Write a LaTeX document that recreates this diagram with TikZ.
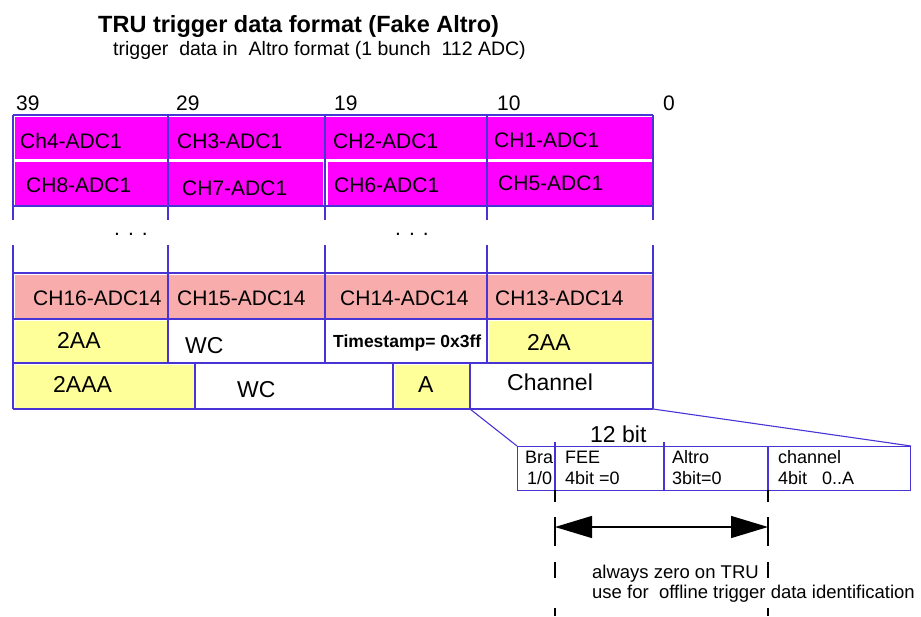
\documentclass[tikz,border=0pt]{standalone}
\usepackage{fontspec}
\setmainfont{Liberation Sans}
\usetikzlibrary{arrows.meta}
\definecolor{gridblue}{RGB}{72,52,212}
\definecolor{mag}{RGB}{255,0,255}
\definecolor{pinkc}{RGB}{248,172,172}
\definecolor{yel}{RGB}{255,255,153}
\begin{document}
\begin{tikzpicture}[x=1pt,y=-1pt,
  gridline/.style={draw=gridblue,line width=1.3pt},
  thinblue/.style={draw=gridblue,line width=1.1pt},
  txt/.style={anchor=base west,inner sep=0pt,text=black},
  cellfont/.style={txt,font=\fontsize{21}{21}\selectfont},
  bigfont/.style={txt,font=\fontsize{23}{23}\selectfont},
  smallfont/.style={txt,font=\fontsize{18}{18}\selectfont},
  dimline/.style={draw=black,line width=1.3pt},
  bigtri/.tip={Triangle[length=37pt,width=22pt]}]
\useasboundingbox (0,0) rectangle (921,616);

% titles
\node[txt,font=\bfseries\fontsize{23.5}{23.5}\selectfont] (title) at (98,32) {TRU trigger data format (Fake Altro)};
\node[txt,font=\fontsize{19.5}{19.5}\selectfont] (subtitle) at (113,55) {trigger\ \ data in\ \ Altro format (1 bunch\ \ 112 ADC)};

% bit numbers
\node[cellfont] (b39) at (16,110) {39};
\node[cellfont] (b29) at (176,110) {29};
\node[cellfont] (b19) at (334,110) {19};
\node[cellfont] (b10) at (497,110) {10};
\node[cellfont] (b0) at (663,110) {0};

% fills
\fill[mag] (14.5,116.5) rectangle (651.5,158.5);
\fill[mag] (14.5,161.5) rectangle (323,204.5);
\fill[mag] (328,161.5) rectangle (651.5,204.5);
\fill[pinkc] (14.5,274.5) rectangle (651.5,317.5);
\fill[yel] (15,321) rectangle (166.5,361.5);
\fill[yel] (488.5,321) rectangle (651.5,361.5);
\fill[yel] (15,365) rectangle (193.5,407.5);
\fill[yel] (394.5,365) rectangle (468.5,407.5);

% grid lines
\foreach \y in {115,206,273,319,363,409} \draw[gridline] (13,\y) -- (653,\y);
\foreach \x in {13,653} {
  \draw[gridline] (\x,115) -- (\x,220);
  \draw[gridline] (\x,245) -- (\x,409);
}
\foreach \x in {168,325,487} {
  \draw[gridline] (\x,115) -- (\x,220);
  \draw[gridline] (\x,245) -- (\x,363);
}
\foreach \x in {195,393,470} \draw[gridline] (\x,363) -- (\x,410);

% row 1 and 2
\node[cellfont] (c4) at (20,148) {Ch4-ADC1};
\node[cellfont] (c3) at (177,148) {CH3-ADC1};
\node[cellfont] (c2) at (333,148) {CH2-ADC1};
\node[cellfont] (c1) at (494,147) {CH1-ADC1};
\node[cellfont] (c8) at (26,192) {CH8-ADC1};
\node[cellfont] (c7) at (182,195) {CH7-ADC1};
\node[cellfont] (c6) at (334,192) {CH6-ADC1};
\node[cellfont] (c5) at (498,190) {CH5-ADC1};

% dots
\node[cellfont] (dotsA) at (114,235) {.\hspace{8pt}.\hspace{8pt}.};
\node[cellfont] (dotsB) at (395,235) {.\hspace{8pt}.\hspace{8pt}.};

% pink row
\node[cellfont] (c16) at (33,305) {CH16-ADC14};
\node[cellfont] (c15) at (177,305) {CH15-ADC14};
\node[cellfont] (c14) at (340,305) {CH14-ADC14};
\node[cellfont] (c13) at (495,305) {CH13-ADC14};

% trailer rows
\node[bigfont] (h2aa) at (57,348) {2AA};
\node[bigfont] (hwc) at (185,353) {WC};
\node[txt,font=\bfseries\fontsize{17.5}{17.5}\selectfont] (ts) at (333,347) {Timestamp= 0x3ff};
\node[bigfont] (h2aab) at (527,350) {2AA};
\node[bigfont] (t2aaa) at (53,392) {2AAA};
\node[bigfont] (twc) at (237,397) {WC};
\node[bigfont] (ta) at (418,392) {A};
\node[bigfont] (tch) at (507,390) {Channel};

% 12 bit box
\node[bigfont] (twelve) at (590,442) {12 bit};
\node[draw=gridblue,line width=1.1pt,minimum width=393pt,minimum height=44pt,anchor=north west,inner sep=0pt] (bits) at (517,446) {};
\draw[thinblue] (555,442) -- (555,490);
\draw[thinblue] (664,442) -- (664,490);
\draw[thinblue] (768,446) -- (768,490);
\node[smallfont] (bra) at (525,463) {Bra};
\node[smallfont] (bra2) at (527,484) {1/0};
\node[smallfont] (fee) at (565,463) {FEE};
\node[smallfont] (fee2) at (565,484) {4bit =0};
\node[smallfont] (alt) at (672,463) {Altro};
\node[smallfont] (alt2) at (672,484) {3bit=0};
\node[smallfont] (chn) at (778,463) {channel};
\node[smallfont] (chn2) at (778,484) {4bit\ \ \ 0..A};

% expansion lines
\coordinate (expL) at (470,409);
\coordinate (expR) at (653,409);
\draw[thinblue] (expL) -- (bits.north west);
\draw[thinblue] (expR) -- (bits.north east);

% dimension lines
\foreach \x in {555,768} {
  \draw[dimline] (\x,490) -- (\x,502);
  \draw[dimline] (\x,517) -- (\x,546);
  \draw[dimline] (\x,562) -- (\x,578);
  \draw[dimline] (\x,608) -- (\x,616);
}
\coordinate (arL) at (555,527);
\coordinate (arR) at (768,527);
\draw[dimline,{bigtri}-{bigtri}] (arL) -- (arR);

\node[smallfont,font=\fontsize{18.5}{18.5}\selectfont] (n1) at (592,578) {always zero on TRU};
\node[smallfont,font=\fontsize{18.5}{18.5}\selectfont] (n2) at (592,598) {use for\ \ offline trigger data identification};
\end{tikzpicture}
\end{document}
